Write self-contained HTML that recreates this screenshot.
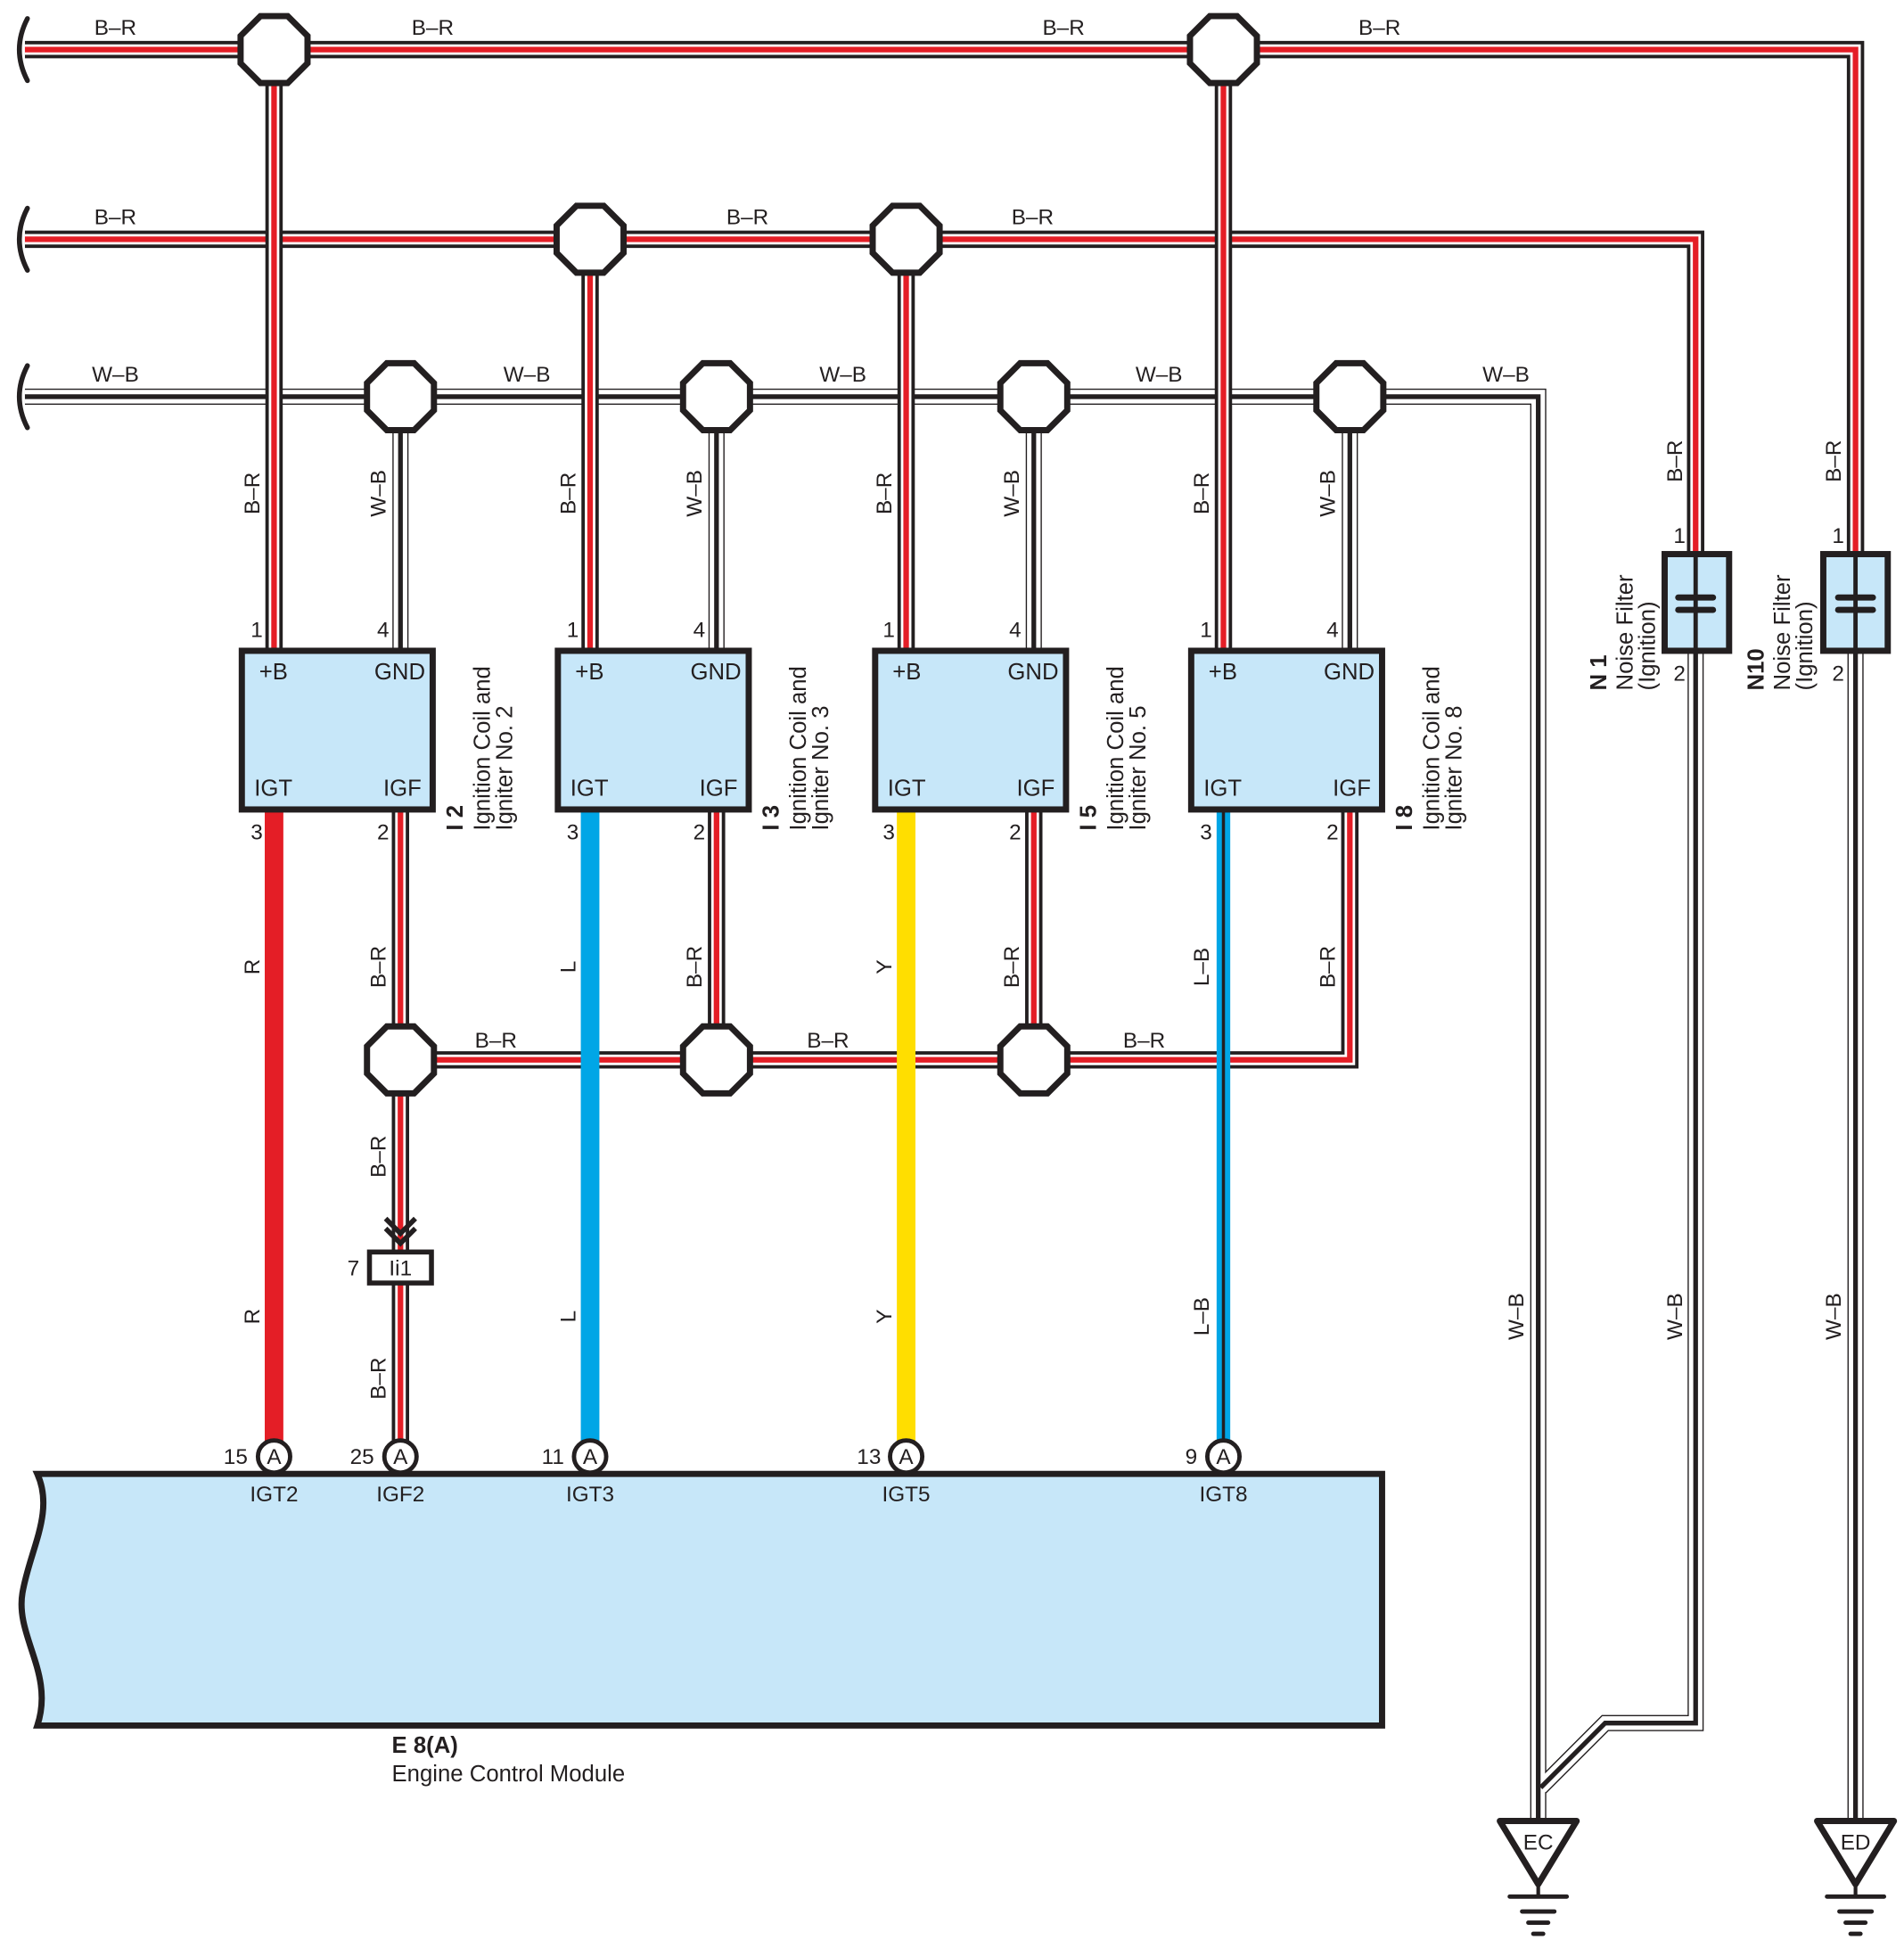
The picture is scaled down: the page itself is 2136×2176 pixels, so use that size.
<!DOCTYPE html>
<html><head><meta charset="utf-8"><style>
html,body{margin:0;padding:0;background:#fff}
svg{display:block}
text{font-family:"Liberation Sans",sans-serif;fill:#231f20}
.l{font-size:17.5px}
.b{font-size:18.5px}
.c{font-size:18.5px}
.bd{font-weight:bold}
</style></head><body>
<svg xmlns="http://www.w3.org/2000/svg" width="2136" height="2176" viewBox="0 0 1536 1565">
<defs>
<g id="wbw" fill="none" stroke-linejoin="miter">
<path d="M20 320 H1241 V1468"/>
<path d="M323 320 V525 M578 320 V525 M834 320 V525 M1089 320 V525"/>
<path d="M1368 525 V1390 H1295 L1243 1442"/>
<path d="M1497 525 V1468"/>
</g>
<g id="brh" fill="none">
<path d="M20 40 H1497 V447"/>
<path d="M20 193 H1368 V447"/>
<path d="M1089 653 V855 H323"/>
</g>
<g id="brv" fill="none">
<path d="M221 40 V525 M476 193 V525 M731 193 V525 M987 40 V525"/>
<path d="M323 653 V1010 M323 1035 V1175 M578 653 V855 M834 653 V855"/>
</g>
<polygon id="oct" points="-11,-27 11,-27 27,-11 27,11 11,27 -11,27 -27,11 -27,-11" fill="#fff" stroke="#231f20" stroke-width="5"/>
</defs>

<use href="#wbw" stroke="#231f20" stroke-width="13"/>
<use href="#wbw" stroke="#fff" stroke-width="11"/>
<use href="#wbw" stroke="#231f20" stroke-width="3.8"/>
<use href="#brh" stroke="#231f20" stroke-width="14"/>
<use href="#brh" stroke="#fff" stroke-width="8.5"/>
<use href="#brh" stroke="#e41e26" stroke-width="4.5"/>
<use href="#brv" stroke="#231f20" stroke-width="14"/>
<use href="#brv" stroke="#fff" stroke-width="8.5"/>
<use href="#brv" stroke="#e41e26" stroke-width="4.5"/>

<line x1="221" y1="653" x2="221" y2="1175" stroke="#e41e26" stroke-width="15"/>
<line x1="476" y1="653" x2="476" y2="1175" stroke="#00a6e6" stroke-width="15"/>
<line x1="731" y1="653" x2="731" y2="1175" stroke="#ffde00" stroke-width="15"/>
<line x1="987" y1="653" x2="987" y2="1175" stroke="#00a6e6" stroke-width="11"/>
<line x1="987" y1="653" x2="987" y2="1175" stroke="#231f20" stroke-width="2.5"/>

<g fill="none" stroke="#231f20" stroke-width="4" stroke-linecap="round">
<path d="M22 15 Q9 40 22 65"/>
<path d="M22 168 Q9 193 22 218"/>
<path d="M22 295 Q9 320 22 345"/>
</g>

<use href="#oct" x="221" y="40"/><use href="#oct" x="987" y="40"/>
<use href="#oct" x="476" y="193"/><use href="#oct" x="731" y="193"/>
<use href="#oct" x="323" y="320"/><use href="#oct" x="578" y="320"/><use href="#oct" x="834" y="320"/><use href="#oct" x="1089" y="320"/>
<use href="#oct" x="323" y="855"/><use href="#oct" x="578" y="855"/><use href="#oct" x="834" y="855"/>

<g class="l" text-anchor="middle">
<text x="93" y="28">B–R</text><text x="349" y="28">B–R</text><text x="858" y="28">B–R</text><text x="1113" y="28">B–R</text>
<text x="93" y="181">B–R</text><text x="603" y="181">B–R</text><text x="833" y="181">B–R</text>
<text x="93" y="308">W–B</text><text x="425" y="308">W–B</text><text x="680" y="308">W–B</text><text x="935" y="308">W–B</text><text x="1215" y="308">W–B</text>
<text x="400" y="845">B–R</text><text x="668" y="845">B–R</text><text x="923" y="845">B–R</text>
</g>

<g class="l" text-anchor="middle">
<text transform="translate(209,398) rotate(-90)">B–R</text>
<text transform="translate(311,398) rotate(-90)">W–B</text>
<text transform="translate(464,398) rotate(-90)">B–R</text>
<text transform="translate(566,398) rotate(-90)">W–B</text>
<text transform="translate(719,398) rotate(-90)">B–R</text>
<text transform="translate(822,398) rotate(-90)">W–B</text>
<text transform="translate(975,398) rotate(-90)">B–R</text>
<text transform="translate(1077,398) rotate(-90)">W–B</text>
<text transform="translate(1357,372) rotate(-90)">B–R</text>
<text transform="translate(1485,372) rotate(-90)">B–R</text>
<text transform="translate(209,780) rotate(-90)">R</text>
<text transform="translate(209,1062) rotate(-90)">R</text>
<text transform="translate(311,780) rotate(-90)">B–R</text>
<text transform="translate(311,933) rotate(-90)">B–R</text>
<text transform="translate(311,1112) rotate(-90)">B–R</text>
<text transform="translate(464,780) rotate(-90)">L</text>
<text transform="translate(464,1062) rotate(-90)">L</text>
<text transform="translate(566,780) rotate(-90)">B–R</text>
<text transform="translate(719,780) rotate(-90)">Y</text>
<text transform="translate(719,1062) rotate(-90)">Y</text>
<text transform="translate(822,780) rotate(-90)">B–R</text>
<text transform="translate(975,780) rotate(-90)">L–B</text>
<text transform="translate(975,1062) rotate(-90)">L–B</text>
<text transform="translate(1077,780) rotate(-90)">B–R</text>
<text transform="translate(1229,1062) rotate(-90)">W–B</text>
<text transform="translate(1357,1062) rotate(-90)">W–B</text>
<text transform="translate(1485,1062) rotate(-90)">W–B</text>
</g>

<g fill="#c7e7f9" stroke="#231f20" stroke-width="5">
<rect x="195" y="525" width="154" height="128"/>
<rect x="450" y="525" width="154" height="128"/>
<rect x="706" y="525" width="154" height="128"/>
<rect x="961" y="525" width="154" height="128"/>
</g>
<g class="b">
<text x="209" y="548">+B</text><text x="343" y="548" text-anchor="end">GND</text>
<text x="205" y="642">IGT</text><text x="340" y="642" text-anchor="end">IGF</text>
<text x="464" y="548">+B</text><text x="598" y="548" text-anchor="end">GND</text>
<text x="460" y="642">IGT</text><text x="595" y="642" text-anchor="end">IGF</text>
<text x="720" y="548">+B</text><text x="854" y="548" text-anchor="end">GND</text>
<text x="716" y="642">IGT</text><text x="851" y="642" text-anchor="end">IGF</text>
<text x="975" y="548">+B</text><text x="1109" y="548" text-anchor="end">GND</text>
<text x="971" y="642">IGT</text><text x="1106" y="642" text-anchor="end">IGF</text>
</g>
<g class="l" text-anchor="middle">
<text x="207" y="514">1</text><text x="309" y="514">4</text><text x="207" y="677">3</text><text x="309" y="677">2</text>
<text x="462" y="514">1</text><text x="564" y="514">4</text><text x="462" y="677">3</text><text x="564" y="677">2</text>
<text x="717" y="514">1</text><text x="819" y="514">4</text><text x="717" y="677">3</text><text x="819" y="677">2</text>
<text x="973" y="514">1</text><text x="1075" y="514">4</text><text x="973" y="677">3</text><text x="1075" y="677">2</text>
<text x="1355" y="438">1</text><text x="1355" y="549">2</text>
<text x="1483" y="438">1</text><text x="1483" y="549">2</text>
</g>

<g class="c">
<text transform="translate(373,670) rotate(-90)" class="bd">I 2</text>
<text transform="translate(395,670) rotate(-90)">Ignition Coil and</text>
<text transform="translate(413,670) rotate(-90)">Igniter No. 2</text>
<text transform="translate(628,670) rotate(-90)" class="bd">I 3</text>
<text transform="translate(650,670) rotate(-90)">Ignition Coil and</text>
<text transform="translate(668,670) rotate(-90)">Igniter No. 3</text>
<text transform="translate(884,670) rotate(-90)" class="bd">I 5</text>
<text transform="translate(906,670) rotate(-90)">Ignition Coil and</text>
<text transform="translate(924,670) rotate(-90)">Igniter No. 5</text>
<text transform="translate(1139,670) rotate(-90)" class="bd">I 8</text>
<text transform="translate(1161,670) rotate(-90)">Ignition Coil and</text>
<text transform="translate(1179,670) rotate(-90)">Igniter No. 8</text>
<text transform="translate(1296,557) rotate(-90)" class="bd">N 1</text>
<text transform="translate(1317,557) rotate(-90)">Noise Filter</text>
<text transform="translate(1335,557) rotate(-90)">(Ignition)</text>
<text transform="translate(1423,557) rotate(-90)" class="bd">N10</text>
<text transform="translate(1444,557) rotate(-90)">Noise Filter</text>
<text transform="translate(1462,557) rotate(-90)">(Ignition)</text>
</g>

<g stroke="#231f20">
<rect x="1343" y="447" width="52" height="78" fill="#c7e7f9" stroke-width="5"/>
<line x1="1368" y1="447" x2="1368" y2="525" stroke-width="3.5"/>
<line x1="1354" y1="482" x2="1382" y2="482" stroke-width="5" stroke-linecap="round"/>
<line x1="1354" y1="492" x2="1382" y2="492" stroke-width="5" stroke-linecap="round"/>
<rect x="1471" y="447" width="52" height="78" fill="#c7e7f9" stroke-width="5"/>
<line x1="1497" y1="447" x2="1497" y2="525" stroke-width="3.5"/>
<line x1="1483" y1="482" x2="1511" y2="482" stroke-width="5" stroke-linecap="round"/>
<line x1="1483" y1="492" x2="1511" y2="492" stroke-width="5" stroke-linecap="round"/>
</g>

<g stroke="#231f20" fill="#fff">
<polygon points="1210,1469 1272,1469 1241,1520" stroke-width="5" stroke-linejoin="round"/>
<line x1="1241" y1="1520" x2="1241" y2="1530" stroke-width="3"/>
<line x1="1218" y1="1530" x2="1264" y2="1530" stroke-width="3.5" stroke-linecap="round"/>
<line x1="1228" y1="1542" x2="1254" y2="1542" stroke-width="3.5" stroke-linecap="round"/>
<line x1="1233" y1="1551" x2="1249" y2="1551" stroke-width="3.5" stroke-linecap="round"/>
<line x1="1237" y1="1560" x2="1245" y2="1560" stroke-width="3.5" stroke-linecap="round"/>
<polygon points="1466,1469 1528,1469 1497,1520" stroke-width="5" stroke-linejoin="round"/>
<line x1="1497" y1="1520" x2="1497" y2="1530" stroke-width="3"/>
<line x1="1474" y1="1530" x2="1520" y2="1530" stroke-width="3.5" stroke-linecap="round"/>
<line x1="1484" y1="1542" x2="1510" y2="1542" stroke-width="3.5" stroke-linecap="round"/>
<line x1="1489" y1="1551" x2="1505" y2="1551" stroke-width="3.5" stroke-linecap="round"/>
<line x1="1493" y1="1560" x2="1501" y2="1560" stroke-width="3.5" stroke-linecap="round"/>
</g>
<text x="1241" y="1492" class="l" text-anchor="middle">EC</text>
<text x="1497" y="1492" class="l" text-anchor="middle">ED</text>

<g fill="none" stroke="#231f20" stroke-width="4">
<polyline points="311,983 323,995 335,983"/>
<polyline points="311,991 323,1003 335,991"/>
</g>
<rect x="298" y="1010" width="50" height="25" fill="#fff" stroke="#231f20" stroke-width="4"/>
<text x="323" y="1029" class="l" text-anchor="middle">Ii1</text>
<text x="285" y="1029" class="l" text-anchor="middle">7</text>

<path d="M30 1189 H1115 V1392 H30 C44 1350 12 1320 18 1285 C24 1250 44 1220 30 1189 Z" fill="#c7e7f9" stroke="#231f20" stroke-width="5"/>
<g stroke="#231f20" stroke-width="3.5" fill="#fff">
<circle cx="221" cy="1175" r="13"/><circle cx="323" cy="1175" r="13"/><circle cx="476" cy="1175" r="13"/><circle cx="731" cy="1175" r="13"/><circle cx="987" cy="1175" r="13"/>
</g>
<g class="l" text-anchor="middle">
<text x="221" y="1181">A</text><text x="323" y="1181">A</text><text x="476" y="1181">A</text><text x="731" y="1181">A</text><text x="987" y="1181">A</text>
<text x="190" y="1181">15</text><text x="292" y="1181">25</text><text x="446" y="1181">11</text><text x="701" y="1181">13</text><text x="961" y="1181">9</text>
<text x="221" y="1211">IGT2</text><text x="323" y="1211">IGF2</text><text x="476" y="1211">IGT3</text><text x="731" y="1211">IGT5</text><text x="987" y="1211">IGT8</text>
</g>
<text x="316" y="1414" class="c bd">E 8(A)</text>
<text x="316" y="1437" class="c">Engine Control Module</text>
</svg>
</body></html>
